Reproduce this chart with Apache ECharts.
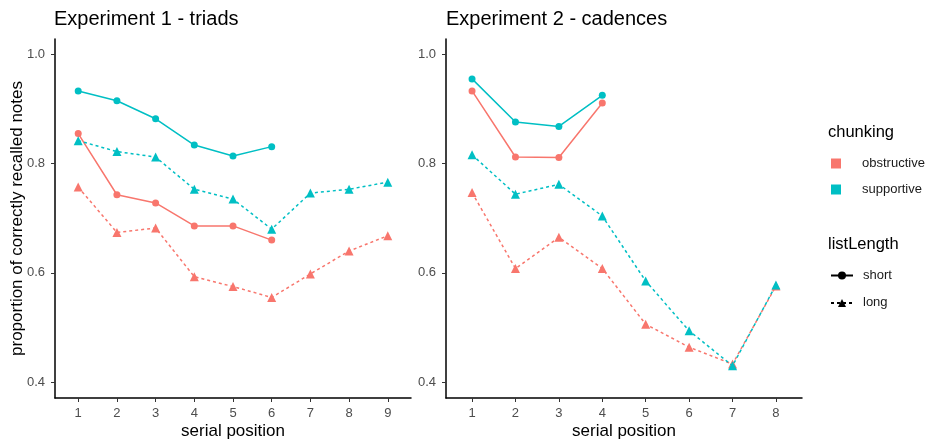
<!DOCTYPE html>
<html>
<head>
<meta charset="utf-8">
<script src="https://cdn.jsdelivr.net/npm/echarts@6/dist/echarts.min.js"></script>
<style>
html,body{margin:0;padding:0;background:#fff;}
#chart{width:931px;height:440px;}
</style>
</head>
<body>
<div id="chart"></div>
<script>
/* serial position recall, two experiments */

const positions1=[1,2,3,4,5,6,7,8,9];
const positions2=[1,2,3,4,5,6,7,8];
const yTicks=[0.4,0.6,0.8,1.0];

const exp1ObstructiveShort=[0.855,0.743,0.728,0.686,0.686,0.660];
const exp1ObstructiveLong=[0.757,0.674,0.682,0.593,0.575,0.555,0.598,0.640,0.668];
const exp1SupportiveShort=[0.933,0.915,0.882,0.834,0.814,0.831];
const exp1SupportiveLong=[0.842,0.822,0.812,0.753,0.735,0.680,0.746,0.753,0.766];

const exp2ObstructiveShort=[0.933,0.812,0.811,0.911];
const exp2ObstructiveLong=[0.747,0.608,0.665,0.608,0.506,0.464,0.433,0.576];
const exp2SupportiveShort=[0.955,0.876,0.868,0.925];
const exp2SupportiveLong=[0.816,0.744,0.762,0.704,0.585,0.494,0.430,0.578];

const RED="#F8766D";
const CYAN="#00BFC4";
const FONT="'Liberation Sans', Arial, sans-serif";

function pairs(xs,ys){
    return ys.map((v,i)=>[xs[i],v]);
}

function lineSeries(name,idx,xs,ys,color,isLong){
    return {
        type:"line",
        name:name,
        xAxisIndex:idx,
        yAxisIndex:idx,
        data:pairs(xs,ys),
        symbol:isLong?"triangle":"circle",
        symbolSize:isLong?9:7,
        itemStyle:{color:color},
        lineStyle:{color:color,width:1.5,type:isLong?[3,3]:"solid"},
        emphasis:{disabled:true},
        z:name==="supportive"?3:2
    };
}

function xAxisFor(idx,xs,maxV){
    return {
        type:"value",
        gridIndex:idx,
        min:0.4,
        max:maxV,
        name:"serial position",
        nameLocation:"middle",
        nameGap:25,
        nameMoveOverlap:false,
        nameTextStyle:{color:"#000",fontSize:17,fontFamily:FONT},
        axisLine:{lineStyle:{color:"#000",width:1.5}},
        axisTick:{customValues:xs,length:4,lineStyle:{color:"#333"}},
        axisLabel:{customValues:xs,color:"#4D4D4D",fontSize:13,margin:9,fontFamily:FONT},
        splitLine:{show:false}
    };
}

function yAxisFor(idx,showName){
    return {
        type:"value",
        gridIndex:idx,
        min:0.371,
        max:1.028,
        name:showName?"proportion of correctly recalled notes":"",
        nameLocation:"middle",
        nameGap:29,
        nameMoveOverlap:false,
        nameRotate:90,
        nameTextStyle:{color:"#000",fontSize:17,fontFamily:FONT},
        axisLine:{show:true,lineStyle:{color:"#000",width:1.5}},
        axisTick:{show:true,customValues:yTicks,length:4,lineStyle:{color:"#333"}},
        axisLabel:{customValues:yTicks,color:"#4D4D4D",fontSize:13,margin:10,fontFamily:FONT,
            formatter:v=>v.toFixed(1)},
        splitLine:{show:false}
    };
}

const chart=echarts.init(document.getElementById("chart"));

const option={
    animation:false,
    backgroundColor:"#fff",
    title:[
        {text:"Experiment 1 - triads",left:54,top:9,padding:0,
            textStyle:{fontSize:20,fontWeight:"normal",color:"#000",fontFamily:FONT}},
        {text:"Experiment 2 - cadences",left:446,top:9,padding:0,
            textStyle:{fontSize:20,fontWeight:"normal",color:"#000",fontFamily:FONT}},
        {text:"chunking",left:828,top:124,padding:0,
            textStyle:{fontSize:16.5,fontWeight:"normal",color:"#000",fontFamily:FONT}},
        {text:"listLength",left:828,top:236,padding:0,
            textStyle:{fontSize:16.5,fontWeight:"normal",color:"#000",fontFamily:FONT}}
    ],
    legend:[
        {
            orient:"vertical",
            left:831,
            top:157,
            padding:0,
            itemWidth:10,
            itemHeight:10,
            itemGap:13,
            selectedMode:false,
            data:[{name:"obstructive",icon:"rect"},{name:"supportive",icon:"rect"}],
            textStyle:{fontSize:13,lineHeight:10,color:"#1A1A1A",fontFamily:FONT,padding:[0,0,0,16]}
        },
        {
            orient:"vertical",
            left:830,
            top:269,
            padding:0,
            itemWidth:22,
            itemHeight:10,
            itemGap:14.4,
            selectedMode:false,
            data:["short","long"],
            textStyle:{fontSize:13,lineHeight:10,color:"#1A1A1A",fontFamily:FONT,padding:[0,0,0,5]}
        }
    ],
    grid:[
        {left:55,top:39,width:356,height:359,outerBoundsMode:"none"},
        {left:446,top:39,width:356,height:359,outerBoundsMode:"none"}
    ],
    xAxis:[xAxisFor(0,positions1,9.6),xAxisFor(1,positions2,8.6)],
    yAxis:[yAxisFor(0,true),yAxisFor(1,false)],
    series:[
        lineSeries("obstructive",0,positions1,exp1ObstructiveShort,RED,false),
        lineSeries("obstructive",0,positions1,exp1ObstructiveLong,RED,true),
        lineSeries("supportive",0,positions1,exp1SupportiveShort,CYAN,false),
        lineSeries("supportive",0,positions1,exp1SupportiveLong,CYAN,true),
        lineSeries("obstructive",1,positions2,exp2ObstructiveShort,RED,false),
        lineSeries("obstructive",1,positions2,exp2ObstructiveLong,RED,true),
        lineSeries("supportive",1,positions2,exp2SupportiveShort,CYAN,false),
        lineSeries("supportive",1,positions2,exp2SupportiveLong,CYAN,true),
        {type:"line",name:"short",xAxisIndex:0,yAxisIndex:0,data:[],symbol:"circle",symbolSize:6,
            itemStyle:{color:"#000"},lineStyle:{color:"#000",width:1.5}},
        {type:"line",name:"long",xAxisIndex:0,yAxisIndex:0,data:[],symbol:"triangle",symbolSize:8,
            itemStyle:{color:"#000"},lineStyle:{color:"#000",width:1.5,type:[3,3]}}
    ]
};

chart.setOption(option);
</script>
</body>
</html>
